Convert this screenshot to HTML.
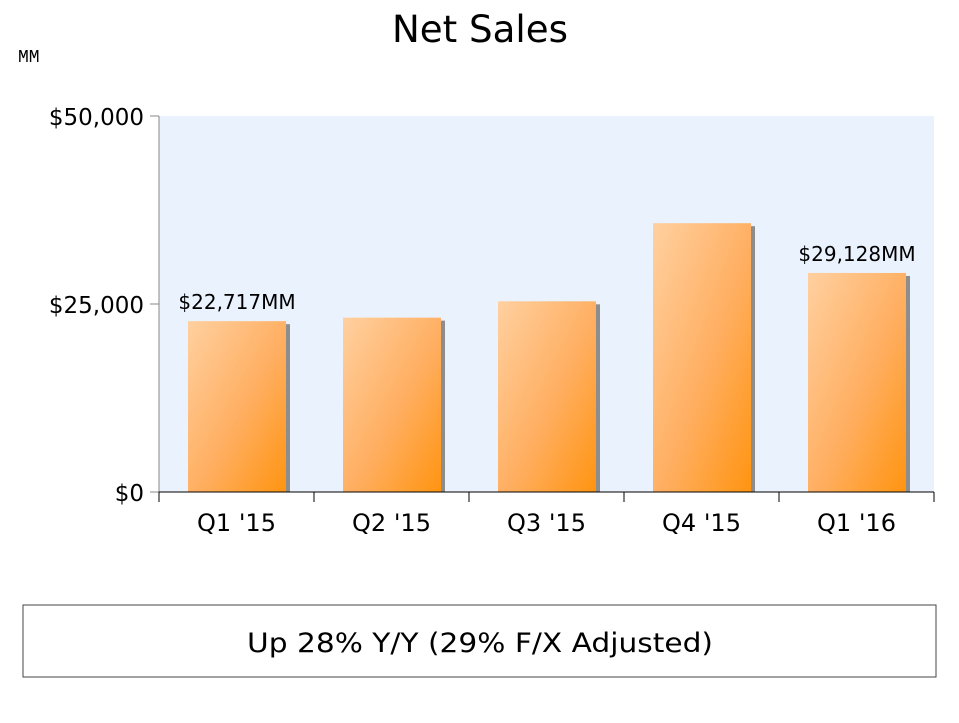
<!DOCTYPE html>
<html><head><meta charset="utf-8"><style>
body{margin:0;background:#fff;width:959px;height:719px;overflow:hidden;font-family:"DejaVu Sans","Liberation Sans",sans-serif;}
</style></head><body>
<svg id="chart" width="959" height="719" font-family="DejaVu Sans, Liberation Sans, sans-serif">
<defs>
<linearGradient id="bg" x1="0" y1="0" x2="1" y2="1">
<stop offset="0" stop-color="#ffd0a0"/><stop offset="0.55" stop-color="#ffae60"/><stop offset="1" stop-color="#ff9410"/>
</linearGradient>
</defs>
<text x="480" y="42" font-size="37" text-anchor="middle" textLength="176" lengthAdjust="spacingAndGlyphs">Net Sales</text>
<text x="18" y="62" font-size="18" style="font-family:'Liberation Mono',monospace">MM</text>
<rect x="159" y="116" width="775" height="376" fill="#eaf2fd"/>
<g id="marks"></g>
<rect x="23" y="605" width="913" height="72" fill="#fff" stroke="#444" stroke-width="1"/>
<text x="480" y="652" font-size="27" text-anchor="middle" textLength="466" lengthAdjust="spacingAndGlyphs">Up 28% Y/Y (29% F/X Adjusted)</text>
</svg>
<script>
const categories=["Q1 '15","Q2 '15","Q3 '15","Q4 '15","Q1 '16"];
const values=[22717,23185,25358,35747,29128];
const valueLabels=["$22,717MM","","","","$29,128MM"];
const yTicks=[0,25000,50000];
const yTickLabels=["$0","$25,000","$50,000"];
const NS="http://www.w3.org/2000/svg";
const g=document.getElementById('marks');
const x0=159,x1=934,y0=492,y1=116,yMax=50000;
const band=(x1-x0)/categories.length;
const yS=v=>y0-(v/yMax)*(y0-y1);
function mk(t,a){const e=document.createElementNS(NS,t);for(const k in a)e.setAttribute(k,a[k]);g.appendChild(e);return e;}
yTicks.forEach((v,i)=>{
 const y=yS(v);
 const t=mk('line',{x1:150,x2:159,y1:y,y2:y,stroke:'#888'});
 
 
 const l=mk('text',{x:144,y:y+9,'font-size':23,'text-anchor':'end'});
 l.textContent=yTickLabels[i];
 
 
});
const ya=mk('line',{x1:159,x2:159,y1:y1,y2:y0,stroke:'#888'});


categories.forEach((c,i)=>{
 const bx=x0+i*band+29,bw=98,top=yS(values[i]);
 const sh=mk('rect',{x:bx+bw-1,y:top+3,width:5,height:y0-top-3,fill:'#8d8d8d'});
 
 
 const b=mk('rect',{x:bx,y:top,width:bw,height:y0-top,fill:'url(#bg)'});
 
 
 const l=mk('text',{x:x0+i*band+band/2,y:531,'font-size':24,'text-anchor':'middle'});
 l.textContent=c;
 
 
 if(valueLabels[i]){
  const v=mk('text',{x:bx+bw/2,y:top-12,'font-size':20,'text-anchor':'middle'});
  v.textContent=valueLabels[i];
  
  
 }
});
for(let i=0;i<=categories.length;i++){
 const x=x0+i*band;
 const t=mk('line',{x1:x,x2:x,y1:y0,y2:y0+10,stroke:'#000'});
 
 
}
const xa=mk('line',{x1:x0,x2:x1,y1:y0,y2:y0,stroke:'#000'});


</script>
</body></html>
